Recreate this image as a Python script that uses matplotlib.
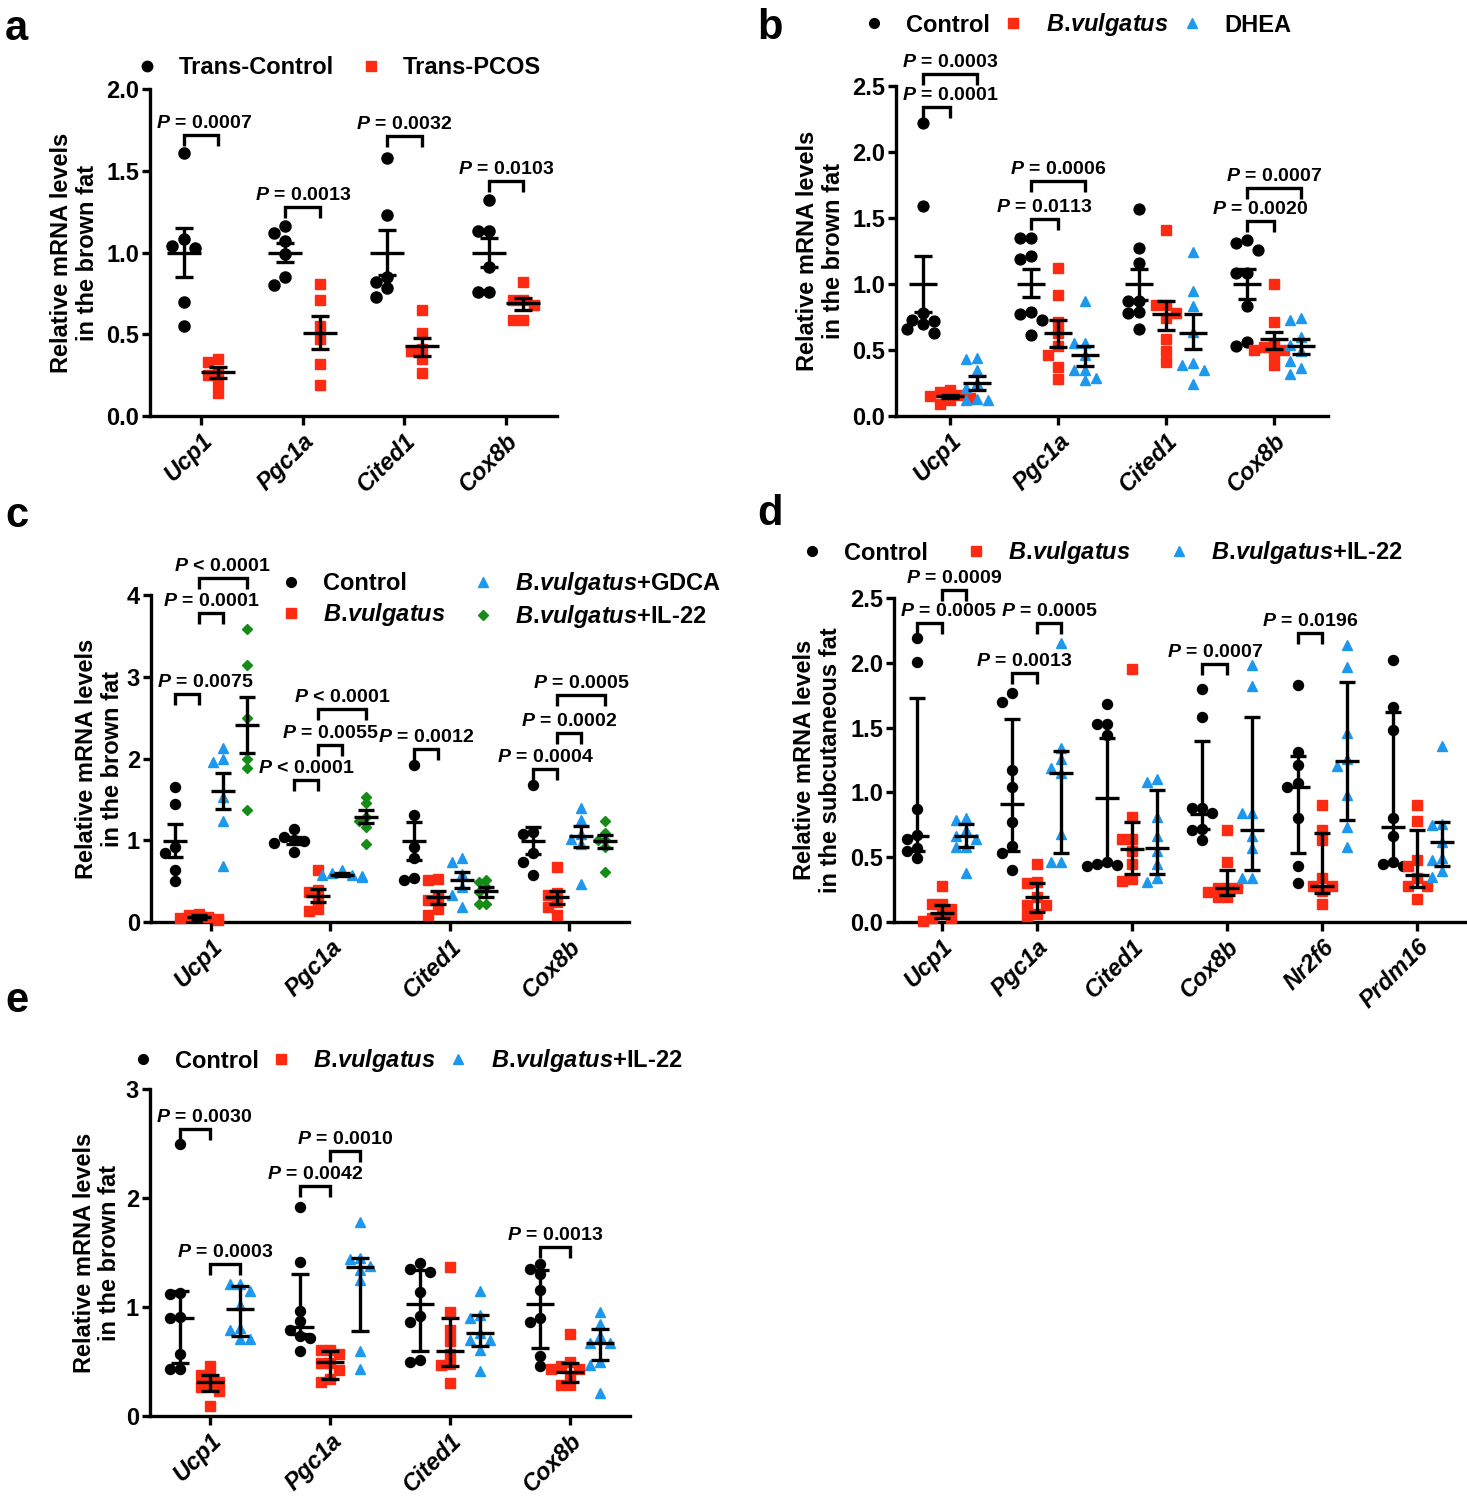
import matplotlib
matplotlib.use("Agg")
import matplotlib.pyplot as plt
from matplotlib.lines import Line2D

plt.rcParams["font.family"] = "Liberation Sans"
plt.rcParams["font.weight"] = "bold"
plt.rcParams["axes.labelweight"] = "bold"
plt.rcParams["mathtext.fontset"] = "custom"
plt.rcParams["mathtext.it"] = "Liberation Sans:italic:bold"
plt.rcParams["mathtext.rm"] = "Liberation Sans:bold"
plt.rcParams["mathtext.bf"] = "Liberation Sans:bold"

W, H = 1467, 1500
BLACK, RED, BLUE, GREEN = "#000000", "#FF2A12", "#1C98EE", "#158C15"
BV = r"$\mathit{B.\!vulgatus}$"

genes4 = ["Ucp1", "Pgc1a", "Cited1", "Cox8b"]
genes6 = ["Ucp1", "Pgc1a", "Cited1", "Cox8b", "Nr2f6", "Prdm16"]

# ---- panel a: Trans-Control vs Trans-PCOS (mean +/- SEM)
a_ctrl = [[1.61, 1.08, 1.04, 1.03, 0.70, 0.55],
          [1.16, 1.12, 1.07, 0.99, 0.85, 0.80],
          [1.58, 1.23, 0.85, 0.82, 0.78, 0.73],
          [1.32, 1.13, 1.13, 0.91, 0.76, 0.76]]
a_ctrl_mid = [1.00, 1.00, 1.00, 1.00]
a_ctrl_lo = [0.85, 0.94, 0.86, 0.91]
a_ctrl_hi = [1.15, 1.06, 1.14, 1.09]
a_pcos = [[0.35, 0.33, 0.27, 0.25, 0.21, 0.14],
          [0.81, 0.71, 0.55, 0.47, 0.32, 0.19],
          [0.65, 0.51, 0.41, 0.40, 0.35, 0.26],
          [0.82, 0.71, 0.71, 0.68, 0.59, 0.59]]
a_pcos_mid = [0.27, 0.51, 0.43, 0.69]
a_pcos_lo = [0.23, 0.41, 0.37, 0.65]
a_pcos_hi = [0.30, 0.61, 0.48, 0.72]
a_pvals = [(0, 0, 1, 1.72, "= 0.0007"), (1, 0, 1, 1.28, "= 0.0013"),
           (2, 0, 1, 1.71, "= 0.0032"), (3, 0, 1, 1.44, "= 0.0103")]

# ---- panel b: Control / B.vulgatus / DHEA (mean +/- SEM)
b_ctrl = [[2.22, 1.59, 0.78, 0.73, 0.72, 0.70, 0.66, 0.63],
          [1.35, 1.35, 1.21, 1.19, 0.79, 0.77, 0.73, 0.61],
          [1.57, 1.27, 1.16, 0.87, 0.87, 0.79, 0.78, 0.66],
          [1.33, 1.31, 1.26, 1.08, 1.08, 0.83, 0.56, 0.53]]
b_ctrl_mid = [1.00, 1.00, 1.00, 1.00]
b_ctrl_lo = [0.79, 0.90, 0.88, 0.89]
b_ctrl_hi = [1.21, 1.11, 1.11, 1.11]
b_bv = [[0.20, 0.18, 0.16, 0.15, 0.14, 0.13, 0.12, 0.09],
        [1.12, 0.92, 0.71, 0.63, 0.53, 0.46, 0.37, 0.28],
        [1.41, 0.84, 0.84, 0.78, 0.74, 0.58, 0.49, 0.41],
        [1.00, 0.71, 0.55, 0.52, 0.50, 0.50, 0.47, 0.39]]
b_bv_mid = [0.15, 0.63, 0.77, 0.58]
b_bv_lo = [0.14, 0.52, 0.65, 0.51]
b_bv_hi = [0.16, 0.73, 0.87, 0.64]
b_dhea = [[0.44, 0.43, 0.35, 0.25, 0.21, 0.13, 0.12, 0.12],
          [0.87, 0.55, 0.55, 0.46, 0.35, 0.35, 0.29, 0.27],
          [1.24, 0.95, 0.83, 0.64, 0.40, 0.39, 0.35, 0.24],
          [0.74, 0.73, 0.60, 0.54, 0.49, 0.42, 0.36, 0.32]]
b_dhea_mid = [0.25, 0.46, 0.63, 0.53]
b_dhea_lo = [0.20, 0.38, 0.51, 0.47]
b_dhea_hi = [0.30, 0.53, 0.77, 0.58]
b_pvals = [(0, 0, 2, 2.59, "= 0.0003"), (0, 0, 1, 2.34, "= 0.0001"),
           (1, 0, 2, 1.78, "= 0.0006"), (1, 0, 1, 1.49, "= 0.0113"),
           (3, 0, 2, 1.73, "= 0.0007"), (3, 0, 1, 1.48, "= 0.0020")]

# ---- panel c: Control / B.vulgatus / +GDCA / +IL-22 (mean +/- SEM)
c_ctrl = [[1.65, 1.44, 0.92, 0.84, 0.64, 0.50],
          [1.14, 1.04, 1.00, 0.99, 0.97, 0.86],
          [1.92, 1.31, 0.92, 0.78, 0.54, 0.51],
          [1.67, 1.10, 1.08, 0.84, 0.73, 0.57]]
c_ctrl_mid = [0.99, 1.00, 0.99, 0.99]
c_ctrl_lo = [0.80, 0.96, 0.76, 0.83]
c_ctrl_hi = [1.20, 1.04, 1.22, 1.16]
c_bv = [[0.10, 0.08, 0.06, 0.05, 0.04, 0.03],
        [0.64, 0.39, 0.37, 0.27, 0.16, 0.14],
        [0.52, 0.51, 0.31, 0.27, 0.16, 0.08],
        [0.67, 0.35, 0.33, 0.24, 0.18, 0.08]]
c_bv_mid = [0.06, 0.32, 0.31, 0.30]
c_bv_lo = [0.04, 0.24, 0.22, 0.22]
c_bv_hi = [0.08, 0.40, 0.38, 0.38]
c_gdca = [[2.13, 2.00, 1.96, 1.53, 1.24, 0.69],
          [0.63, 0.60, 0.58, 0.58, 0.56, 0.55],
          [0.78, 0.73, 0.59, 0.43, 0.33, 0.18],
          [1.39, 1.25, 1.08, 1.02, 0.96, 0.47]]
c_gdca_mid = [1.60, 0.58, 0.51, 1.05]
c_gdca_lo = [1.38, 0.56, 0.41, 0.92]
c_gdca_hi = [1.82, 0.60, 0.61, 1.18]
c_il22 = [[3.58, 3.14, 2.49, 2.00, 1.88, 1.37],
          [1.53, 1.45, 1.29, 1.24, 1.16, 0.96],
          [0.51, 0.49, 0.43, 0.37, 0.22, 0.22],
          [1.24, 1.09, 1.00, 1.00, 0.92, 0.61]]
c_il22_mid = [2.41, 1.29, 0.38, 0.99]
c_il22_lo = [2.07, 1.21, 0.31, 0.90]
c_il22_hi = [2.75, 1.37, 0.43, 1.06]
c_pvals = [(0, 1, 3, 4.21, "< 0.0001"), (0, 1, 2, 3.78, "= 0.0001"),
           (0, 0, 1, 2.79, "= 0.0075"), (1, 1, 3, 2.61, "< 0.0001"),
           (1, 1, 2, 2.16, "= 0.0055"), (1, 0, 1, 1.74, "< 0.0001"),
           (2, 0, 1, 2.12, "= 0.0012"), (3, 1, 3, 2.78, "= 0.0005"),
           (3, 1, 2, 2.31, "= 0.0002"), (3, 0, 1, 1.87, "= 0.0004")]

# ---- panel d: subcutaneous fat (median with IQR)
d_ctrl = [[2.19, 2.01, 0.87, 0.67, 0.64, 0.57, 0.55, 0.49],
          [1.77, 1.70, 1.17, 1.04, 0.77, 0.59, 0.53, 0.40],
          [1.68, 1.53, 1.53, 1.44, 0.46, 0.45, 0.44, 0.43],
          [1.80, 1.58, 0.88, 0.88, 0.84, 0.72, 0.71, 0.63],
          [1.83, 1.31, 1.21, 1.07, 1.04, 0.80, 0.43, 0.30],
          [2.02, 1.66, 1.48, 0.80, 0.66, 0.46, 0.45, 0.43]]
d_ctrl_mid = [0.66, 0.91, 0.96, 0.83, 1.04, 0.73]
d_ctrl_lo = [0.55, 0.55, 0.45, 0.72, 0.53, 0.45]
d_ctrl_hi = [1.73, 1.57, 1.42, 1.40, 1.28, 1.62]
d_bv = [[0.28, 0.14, 0.14, 0.10, 0.06, 0.03, 0.03, 0.01],
        [0.45, 0.31, 0.30, 0.19, 0.13, 0.13, 0.06, 0.05],
        [1.95, 0.81, 0.64, 0.64, 0.55, 0.45, 0.33, 0.32],
        [0.71, 0.46, 0.26, 0.26, 0.26, 0.23, 0.19, 0.19],
        [0.90, 0.71, 0.63, 0.34, 0.28, 0.28, 0.24, 0.14],
        [0.90, 0.78, 0.48, 0.43, 0.34, 0.28, 0.28, 0.18]]
d_bv_mid = [0.07, 0.19, 0.56, 0.26, 0.28, 0.36]
d_bv_lo = [0.03, 0.08, 0.37, 0.21, 0.22, 0.27]
d_bv_hi = [0.13, 0.30, 0.77, 0.40, 0.69, 0.71]
d_il22 = [[0.80, 0.79, 0.71, 0.66, 0.64, 0.58, 0.58, 0.38],
          [2.15, 1.34, 1.26, 1.19, 1.15, 0.68, 0.46, 0.46],
          [1.10, 1.08, 0.81, 0.66, 0.55, 0.45, 0.34, 0.31],
          [1.98, 1.82, 0.84, 0.84, 0.66, 0.57, 0.34, 0.34],
          [2.14, 1.97, 1.46, 1.26, 1.20, 0.98, 0.73, 0.58],
          [1.36, 0.76, 0.75, 0.62, 0.49, 0.48, 0.39, 0.35]]
d_il22_mid = [0.66, 1.15, 0.57, 0.71, 1.24, 0.62]
d_il22_lo = [0.58, 0.53, 0.37, 0.40, 0.79, 0.43]
d_il22_hi = [0.76, 1.32, 1.02, 1.58, 1.85, 0.77]
d_pvals = [(0, 1, 2, 2.56, "= 0.0009"), (0, 0, 1, 2.31, "= 0.0005"),
           (1, 1, 2, 2.31, "= 0.0005"), (1, 0, 1, 1.92, "= 0.0013"),
           (3, 0, 1, 1.99, "= 0.0007"), (4, 0, 1, 2.23, "= 0.0196")]

# ---- panel e: brown fat (median with IQR)
e_ctrl = [[2.50, 1.13, 1.12, 0.91, 0.90, 0.57, 0.43, 0.43],
          [1.92, 1.41, 0.96, 0.87, 0.79, 0.73, 0.72, 0.60],
          [1.40, 1.35, 1.32, 1.14, 0.92, 0.86, 0.51, 0.50],
          [1.39, 1.35, 1.30, 1.16, 0.90, 0.86, 0.55, 0.46]]
e_ctrl_mid = [0.90, 0.82, 1.03, 1.03]
e_ctrl_lo = [0.49, 0.75, 0.60, 0.62]
e_ctrl_hi = [1.15, 1.30, 1.34, 1.34]
e_bv = [[0.46, 0.38, 0.38, 0.31, 0.29, 0.27, 0.23, 0.09],
        [0.61, 0.61, 0.57, 0.49, 0.49, 0.42, 0.34, 0.31],
        [1.37, 0.95, 0.79, 0.69, 0.57, 0.48, 0.47, 0.30],
        [0.75, 0.50, 0.46, 0.43, 0.43, 0.37, 0.28, 0.28]]
e_bv_mid = [0.31, 0.50, 0.60, 0.40]
e_bv_lo = [0.23, 0.34, 0.46, 0.31]
e_bv_hi = [0.38, 0.60, 0.90, 0.49]
e_il22 = [[1.21, 1.21, 1.15, 1.02, 0.81, 0.79, 0.71, 0.71],
          [1.78, 1.45, 1.44, 1.38, 1.34, 1.25, 0.60, 0.43],
          [1.15, 0.93, 0.90, 0.76, 0.70, 0.70, 0.61, 0.41],
          [0.95, 0.84, 0.73, 0.67, 0.67, 0.50, 0.47, 0.21]]
e_il22_mid = [0.98, 1.37, 0.76, 0.67]
e_il22_lo = [0.73, 0.78, 0.64, 0.51]
e_il22_hi = [1.19, 1.45, 0.93, 0.80]
e_pvals = [(0, 0, 1, 2.63, "= 0.0030"), (0, 1, 2, 1.39, "= 0.0003"),
           (1, 0, 1, 2.11, "= 0.0042"), (1, 1, 2, 2.43, "= 0.0010"),
           (3, 0, 1, 1.55, "= 0.0013")]

fig = plt.figure(figsize=(W / 100, H / 100), dpi=100)
renderer = fig.canvas.get_renderer()


def make_axes(left, right, top, bottom):
    return fig.add_axes([left / W, 1 - bottom / H, (right - left) / W, (bottom - top) / H])


def swarm(vals, ppx, ppy, d):
    # simple beeswarm: spread overlapping points sideways (pixel space)
    placed, xs = [], [0.0] * len(vals)
    for i in sorted(range(len(vals)), key=lambda k: -vals[k]):
        y = vals[i] * ppy
        for k in [0, -2, 2, -1, 1, -3, 3, -4, 4]:
            dx = k * d * 0.5
            if all((dx - px) ** 2 + (y - py) ** 2 >= (0.92 * d) ** 2 for px, py in placed):
                break
        placed.append((dx, y))
        xs[i] = dx / ppx
    return xs


def panel(ax, genes, groups, offsets, ymax, ystep, fmt, pvals, ylabel, labelpad,
          hw_px=13, capsize=6.2):
    n = len(genes)
    ax.set_xlim(-0.5, n - 0.5)
    ax.set_ylim(0, ymax)
    bb = ax.get_position()
    ppx = bb.width * W / n
    ppy = bb.height * H / ymax
    for (pts, mid, lo, hi, color, marker, msz), off in zip(groups, offsets):
        for gi, vals in enumerate(pts):
            xs = swarm(vals, ppx, ppy, msz * 1.39)
            ax.plot([gi + off + dx for dx in xs], vals, ls="none", marker=marker,
                    ms=msz, color=color, mec=color, clip_on=False, zorder=3)
            x = gi + off
            ax.errorbar(x, mid[gi], yerr=[[mid[gi] - lo[gi]], [hi[gi] - mid[gi]]],
                        fmt="none", ecolor="k", elinewidth=2.4, capsize=capsize,
                        capthick=2.4, zorder=4, clip_on=False)
            hw = hw_px / ppx
            ax.plot([x - hw, x + hw], [mid[gi], mid[gi]], color="k", lw=2.4,
                    zorder=4, solid_capstyle="butt", clip_on=False)
    leg = 11 / ppy
    left_px = bb.x0 * W
    for gi, g1, g2, y, txt in pvals:
        x1, x2 = gi + offsets[g1], gi + offsets[g2]
        ax.plot([x1, x1, x2, x2], [y - leg, y, y, y - leg], color="k", lw=2.4,
                clip_on=False, solid_joinstyle="miter", solid_capstyle="butt")
        t = ax.text((x1 + x2) / 2, y + 3 / ppy, r"$\mathit{P}$ " + txt, ha="center",
                    va="bottom", fontsize=14, fontweight="bold")
        # keep the label clear of the y axis, as in the original layout
        x0 = t.get_window_extent(renderer).x0
        if x0 < left_px + 6:
            t.set_x((x1 + x2) / 2 + (left_px + 6 - x0) / ppx)
    for s in ["top", "right"]:
        ax.spines[s].set_visible(False)
    for s in ["left", "bottom"]:
        ax.spines[s].set_linewidth(2.4)
    ticks = [i * ystep for i in range(int(round(ymax / ystep)) + 1)]
    ax.set_yticks(ticks)
    ax.set_yticklabels([fmt.format(t) for t in ticks], fontweight="bold")
    ax.tick_params(axis="y", length=6, width=2.4, labelsize=17, pad=2)
    ax.tick_params(axis="x", length=6.5, width=2.4, pad=3)
    ax.set_xticks(range(n))
    ax.set_xticklabels(genes, rotation=45, ha="right", va="top", fontweight="bold",
                       rotation_mode="anchor", style="italic", fontsize=17)
    ax.set_ylabel(ylabel, fontsize=17, fontweight="bold", labelpad=labelpad,
                  linespacing=1.15)


def legend(ax, handles, labels, x, y, ncol, colsp):
    ax.legend(handles, labels, loc="center left", bbox_to_anchor=(x / W, 1 - y / H),
              bbox_transform=fig.transFigure, ncol=ncol, frameon=False, fontsize=17,
              handlelength=1.0, handletextpad=0.86, columnspacing=colsp,
              borderpad=0, borderaxespad=0, labelspacing=0.25)


def handle(marker, color, ms):
    return Line2D([], [], ls="none", marker=marker, color=color, mec=color, ms=ms)


ylab_brown = "Relative mRNA levels\nin the brown fat"

# a
ax = make_axes(150, 557, 89, 416)
panel(ax, genes4,
      [(a_ctrl, a_ctrl_mid, a_ctrl_lo, a_ctrl_hi, BLACK, "o", 8),
       (a_pcos, a_pcos_mid, a_pcos_lo, a_pcos_hi, RED, "s", 7.5)],
      [-0.17, 0.17], 2.0, 0.5, "{:.1f}", a_pvals, ylab_brown, 5, hw_px=17, capsize=6.5)
legend(ax, [handle("o", BLACK, 7.5), handle("s", RED, 7)],
       ["Trans-Control", "Trans-PCOS"], 135, 68, 2, 1.06)

# b
ax = make_axes(896, 1328, 86, 416)
panel(ax, genes4,
      [(b_ctrl, b_ctrl_mid, b_ctrl_lo, b_ctrl_hi, BLACK, "o", 7.8),
       (b_bv, b_bv_mid, b_bv_lo, b_bv_hi, RED, "s", 7.3),
       (b_dhea, b_dhea_mid, b_dhea_lo, b_dhea_hi, BLUE, "^", 7.8)],
      [-0.25, 0.0, 0.25], 2.5, 0.5, "{:.1f}", b_pvals, ylab_brown, 5, hw_px=14)
legend(ax, [handle("o", BLACK, 7), handle("s", RED, 6.5), handle("^", BLUE, 7)],
       ["Control", BV, "DHEA"], 862, 25, 3, 0.5)

# c
ax = make_axes(151, 629, 595, 922)
panel(ax, genes4,
      [(c_ctrl, c_ctrl_mid, c_ctrl_lo, c_ctrl_hi, BLACK, "o", 7.2),
       (c_bv, c_bv_mid, c_bv_lo, c_bv_hi, RED, "s", 6.8),
       (c_gdca, c_gdca_mid, c_gdca_lo, c_gdca_hi, BLUE, "^", 7.2),
       (c_il22, c_il22_mid, c_il22_lo, c_il22_hi, GREEN, "D", 5)],
      [-0.3, -0.1, 0.1, 0.3], 4, 1, "{:.0f}", c_pvals, ylab_brown, 2, hw_px=12, capsize=6)
legend(ax, [handle("o", BLACK, 7), handle("s", RED, 6.5), handle("^", BLUE, 7),
            handle("D", GREEN, 5)],
       ["Control", BV, BV + "+GDCA", BV + "+IL-22"], 279, 600, 2, 1.07)

# d
ax = make_axes(894, 1465, 598, 922)
panel(ax, genes6,
      [(d_ctrl, d_ctrl_mid, d_ctrl_lo, d_ctrl_hi, BLACK, "o", 7.2),
       (d_bv, d_bv_mid, d_bv_lo, d_bv_hi, RED, "s", 6.8),
       (d_il22, d_il22_mid, d_il22_lo, d_il22_hi, BLUE, "^", 7.2)],
      [-0.26, 0.0, 0.26], 2.5, 0.5, "{:.1f}", d_pvals,
      "Relative mRNA levels\nin the subcutaneous fat", 6, hw_px=12, capsize=5.8)
legend(ax, [handle("o", BLACK, 7), handle("s", RED, 6.5), handle("^", BLUE, 7)],
       ["Control", BV, BV + "+IL-22"], 800, 553, 3, 1.55)

# e
ax = make_axes(150, 630, 1089, 1416)
panel(ax, genes4,
      [(e_ctrl, e_ctrl_mid, e_ctrl_lo, e_ctrl_hi, BLACK, "o", 7.2),
       (e_bv, e_bv_mid, e_bv_lo, e_bv_hi, RED, "s", 6.8),
       (e_il22, e_il22_mid, e_il22_lo, e_il22_hi, BLUE, "^", 7.2)],
      [-0.25, 0.0, 0.25], 3, 1, "{:.0f}", e_pvals, ylab_brown, 3, hw_px=14, capsize=6.8)
legend(ax, [handle("o", BLACK, 7), handle("s", RED, 6.5), handle("^", BLUE, 7)],
       ["Control", BV, BV + "+IL-22"], 131, 1061, 3, 0.45)

for letter, x, y in [("a", 5, 40), ("b", 757, 39), ("c", 5, 527), ("d", 757, 525),
                     ("e", 5, 1012)]:
    fig.text(x / W, 1 - y / H, letter, fontsize=30, fontweight="bold", va="baseline")

fig.savefig("out.png", dpi=100)
